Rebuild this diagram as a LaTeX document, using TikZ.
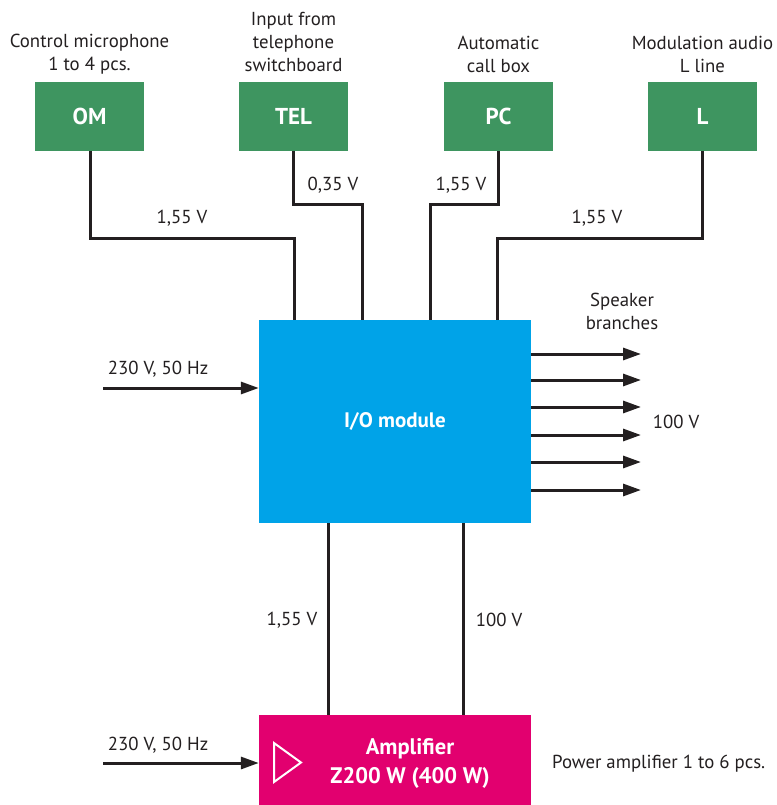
\documentclass[tikz,border=0pt]{standalone}
\usepackage{fontspec}
\setmainfont{PT Sans}
\usetikzlibrary{arrows.meta}
\definecolor{boxgreen}{HTML}{3E9560}
\definecolor{iocyan}{HTML}{00A3E8}
\definecolor{ampmag}{HTML}{E2006F}
\definecolor{ink}{HTML}{231F20}
\tikzset{
  gbox/.style={fill=boxgreen, draw=none, minimum width=109pt, minimum height=69pt, inner sep=0pt, text=white, font=\fontsize{23}{26}\selectfont\bfseries},
  wire/.style={draw=ink, line width=3pt},
  arr/.style={draw=ink, line width=3pt, -{Triangle[length=18pt,width=12pt]}},
  lbl/.style={text=ink, font=\fontsize{18.8}{23}\selectfont, align=center, inner sep=0pt},
}
\begin{document}
\begin{tikzpicture}[x=1pt,y=-1pt]
\useasboundingbox (0,0) rectangle (776,805);
% top boxes
\node[gbox] (om) at (89.5,116.5) {OM};
\node[gbox] (tel) at (293.5,116.5) {TEL};
\node[gbox] (pc) at (498.5,116.5) {PC};
\node[gbox] (l) at (702.5,116.5) {L};
% top labels
\node[lbl] (omt) at (89.5,54.5) {Control microphone\\1 to 4 pcs.};
\node[lbl] (telt) at (293.5,42) {Input from\\telephone\\switchboard};
\node[lbl] (pct) at (498.5,54.5) {Automatic\\call box};
\node[lbl] (lt) at (702.5,54.5) {Modulation audio\\L line};
% io module
\node[fill=iocyan, minimum width=272pt, minimum height=203pt, inner sep=0pt, text=white, font=\fontsize{21}{24}\selectfont\bfseries] (io) at (395,421.5) {I/O module};
% amplifier
\node[fill=ampmag, minimum width=272pt, minimum height=90pt, inner sep=0pt] (amp) at (395,760) {};
\node[text=white, font=\fontsize{22.5}{29}\selectfont\bfseries, align=center, inner sep=0pt] (ampt) at (410,763) {Amplifier\\Z200 W (400 W)};
\draw[white, line width=2pt, line join=miter] (274,743) -- (301,762.5) -- (274,782) -- cycle;
% connectors top
\coordinate (a1) at (90,238);
\coordinate (a2) at (294,238);
\draw[wire] (om.south -| a1) -- (a1) -- (a2) -- (io.north -| a2);
\coordinate (b1) at (293,204);
\coordinate (b2) at (362,204);
\draw[wire] (tel.south -| b1) -- (b1) -- (b2) -- (io.north -| b2);
\coordinate (c1) at (498,204);
\coordinate (c2) at (430,204);
\draw[wire] (pc.south -| c1) -- (c1) -- (c2) -- (io.north -| c2);
\coordinate (d1) at (702,238);
\coordinate (d2) at (497,238);
\draw[wire] (l.south -| d1) -- (d1) -- (d2) -- (io.north -| d2);
\node[lbl] (v1) at (182,218) {1,55 V};
\node[lbl] (v2) at (333,185) {0,35 V};
\node[lbl] (v3) at (461,185) {1,55 V};
\node[lbl] (v4) at (597,218) {1,55 V};
% speaker outputs
\foreach \yy [count=\i] in {354,380,407,435,462,490}{
  \coordinate (s\i) at (641,\yy);
  \draw[arr] (io.east |- s\i) -- (s\i);
}
\node[lbl] (spk) at (622,311.5) {Speaker\\branches};
\node[lbl] (v100) at (676,422) {100 V};
% mains to io
\coordinate (m1) at (103,388);
\draw[arr] (m1) -- (io.west |- m1);
\node[lbl] (m1t) at (158,369) {230 V, 50 Hz};
% io to amp
\coordinate (e1) at (328,600);
\coordinate (e2) at (463,600);
\draw[wire] (io.south -| e1) -- (amp.north -| e1);
\draw[wire] (io.south -| e2) -- (amp.north -| e2);
\node[lbl] (v5) at (292,620) {1,55 V};
\node[lbl] (v6) at (499,620) {100 V};
% mains to amp
\coordinate (m2) at (103,763);
\draw[arr] (m2) -- (amp.west |- m2);
\node[lbl] (m2t) at (158,745) {230 V, 50 Hz};
\node[lbl, anchor=west] (pa) at (552,764) {Power amplifier 1 to 6 pcs.};
\end{tikzpicture}
\end{document}
